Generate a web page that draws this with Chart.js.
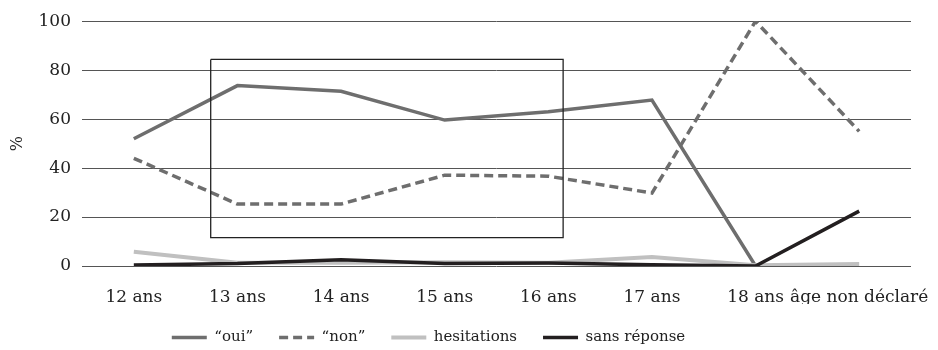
<!DOCTYPE html>
<html>
<head>
<meta charset="utf-8">
<script src="https://cdn.jsdelivr.net/npm/chart.js@4/dist/chart.umd.min.js"></script>
<style>
  html,body{margin:0;padding:0;background:#fff;}
  #wrap{width:938px;height:350px;}
</style>
</head>
<body>
<div id="wrap"><canvas id="c"></canvas></div>
<script>
// catégories d'âge
const ages = ['12 ans','13 ans','14 ans','15 ans','16 ans','17 ans','18 ans','âge non déclaré'];
// séries (%)
const oui          = [52, 73.7, 71.4, 59.6, 63, 67.8, 0, null];
const non          = [44, 25.3, 25.3, 37.1, 36.7, 29.8, 100, 55];
const hesitations  = [5.8, 1.3, 1.3, 1.5, 1.3, 3.7, 0.3, 0.8];
const sansReponse  = [0.4, 1, 2.6, 1, 1.2, 0.5, 0, 22.4];
// cadre (indices d'âge, %)
const boxX = [0.742, 4.143];
const boxY = [11.6, 84.4];
const yTicks = [0, 20, 40, 60, 80, 100];

const serif = "'DejaVu Serif', serif";
const boxPts = [
  {x:boxX[0],y:boxY[1]},{x:boxX[1],y:boxY[1]},{x:boxX[1],y:boxY[0]},
  {x:boxX[0],y:boxY[0]},{x:boxX[0],y:boxY[1]}
];

// la légende de l'original n'est pas centrée sur la figure : on la décale un peu
const legendShift = {
  id:'legendShift',
  afterLayout(chart){ chart.legend.left -= 27; chart.legend.right -= 27; }
};

new Chart(document.getElementById('c'),{
  type:'line',
  data:{labels:ages,datasets:[
    {label:'“oui”',data:oui,borderColor:'#6e6e6e',borderWidth:3.5,pointRadius:0,order:3},
    {label:'“non”',data:non,borderColor:'#6e6e6e',borderWidth:3.5,borderDash:[9,5],pointRadius:0,order:2},
    {label:'hesitations',data:hesitations,borderColor:'#c0c0c0',borderWidth:4,pointRadius:0,order:1},
    {label:'sans réponse',data:sansReponse,borderColor:'#231f20',borderWidth:3.5,pointRadius:0,order:0},
    {label:'cadre',data:boxPts,xAxisID:'xBox',borderColor:'#222',borderWidth:1.3,pointRadius:0,order:-1}
  ]},
  plugins:[legendShift],
  options:{
    responsive:true,maintainAspectRatio:false,animation:false,
    layout:{padding:{top:20,right:27,left:0,bottom:-5}},
    plugins:{
      tooltip:{enabled:false},
      legend:{position:'bottom',
        labels:{filter:it=>it.text!=='cadre',sort:(a,b)=>a.datasetIndex-b.datasetIndex,
          usePointStyle:true,pointStyle:'line',pointStyleWidth:35,boxHeight:15,
          padding:26,color:'#222',font:{family:serif,size:15},
          generateLabels:chart=>Chart.defaults.plugins.legend.labels.generateLabels(chart).map(it=>{
            it.lineDash=chart.data.datasets[it.datasetIndex].borderDash||[];
            it.lineCap='butt';
            return it;
          })}}
    },
    scales:{
      x:{offset:true,grid:{display:false},border:{display:false},
        ticks:{autoSkip:false,maxRotation:0,color:'#222',padding:13,font:{family:serif,size:17}},
        afterFit:s=>{s.height=38;s.paddingLeft=0;s.paddingRight=0;}},
      xBox:{type:'linear',display:false,min:-0.5,max:7.5},
      y:{min:0,max:100,border:{display:false},
        grid:{color:'#555',lineWidth:1,drawTicks:false},
        afterBuildTicks:s=>{s.ticks=yTicks.map(v=>({value:v}));},
        ticks:{color:'#222',padding:11,font:{family:serif,size:17}},
        title:{display:true,text:'%',color:'#222',padding:{top:8,bottom:0},font:{family:serif,size:16}},
        afterFit:s=>{s.width=82;}}
    }
  }
});
</script>
</body>
</html>
